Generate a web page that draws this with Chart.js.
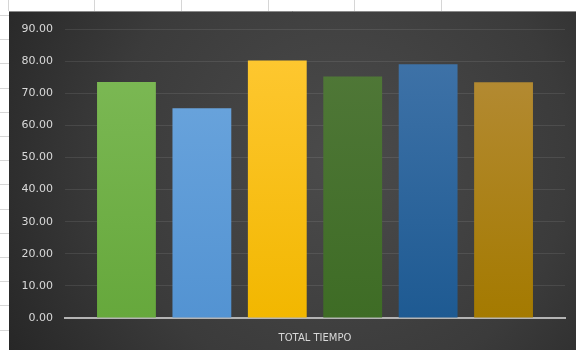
<!DOCTYPE html>
<html>
<head>
<meta charset="utf-8">
<script src="https://cdn.jsdelivr.net/npm/chart.js@4.4.1/dist/chart.umd.min.js"></script>
<style>
  html, body { margin: 0; padding: 0; background: #fff; }
  #wrap { width: 576px; height: 350px; position: relative; }
</style>
</head>
<body>
<div id="wrap"><canvas id="myChartTiempo"></canvas></div>
<script>
// data
var categories = ['TOTAL TIEMPO'];
var seriesNames = ['Serie 1', 'Serie 2', 'Serie 3', 'Serie 4', 'Serie 5', 'Serie 6'];
var seriesValues = [73.5, 65.3, 80.2, 75.2, 79.0, 73.4];
var yTicks = [0, 10, 20, 30, 40, 50, 60, 70, 80, 90];

// top / bottom colour of each bar's gradient
var colorsTop = ['#7fbb58', '#6fa8df', '#ffc935', '#52793a', '#4275aa', '#b68d3c'];
var colorsBottom = ['#66a83c', '#5393d2', '#f2b700', '#3e6c25', '#1e5a92', '#a47a00'];

// spreadsheet cells + dark chart background
var sheetBackground = {
    id: 'sheetBackground',
    beforeDraw: function (chart) {
        var ctx = chart.ctx;
        var w = chart.width, h = chart.height;
        ctx.save();
        ctx.fillStyle = '#ffffff';
        ctx.fillRect(0, 0, w, h);
        ctx.strokeStyle = '#d6d6d6';
        ctx.lineWidth = 1;
        var cols = [8, 94, 181, 268, 354, 441];
        cols.forEach(function (x) {
            ctx.beginPath();
            ctx.moveTo(x + 0.5, 0);
            ctx.lineTo(x + 0.5, 11);
            ctx.stroke();
        });
        for (var y = 15; y < h; y += 24.2) {
            ctx.beginPath();
            ctx.moveTo(0, Math.round(y) + 0.5);
            ctx.lineTo(9, Math.round(y) + 0.5);
            ctx.stroke();
        }
        var g = ctx.createRadialGradient(340, 160, 0, 340, 160, 380);
        g.addColorStop(0, '#4b4b4b');
        g.addColorStop(0.6, '#3b3b3b');
        g.addColorStop(1, '#272727');
        ctx.fillStyle = g;
        ctx.fillRect(9, 11, w - 9, h - 11);
        ctx.strokeStyle = '#8a8a8a';
        ctx.beginPath();
        ctx.moveTo(9, 11.5);
        ctx.lineTo(w, 11.5);
        ctx.stroke();
        ctx.restore();
    }
};

function barGradient(i) {
    return function (context) {
        var area = context.chart.chartArea;
        if (!area) return colorsBottom[i];
        var g = context.chart.ctx.createLinearGradient(0, area.top, 0, area.bottom);
        g.addColorStop(0, colorsTop[i]);
        g.addColorStop(1, colorsBottom[i]);
        return g;
    };
}

var datasets = seriesValues.map(function (v, i) {
    return {
        label: seriesNames[i],
        data: [v],
        backgroundColor: barGradient(i),
        borderWidth: 0
    };
});

var myChart = new Chart(document.getElementById('myChartTiempo'), {
    type: 'bar',
    data: { labels: categories, datasets: datasets },
    plugins: [sheetBackground],
    options: {
        responsive: true,
        maintainAspectRatio: false,
        animation: false,
        categoryPercentage: 0.905,
        barPercentage: 0.78,
        layout: { padding: { left: 9, right: 11, top: 29, bottom: 0 } },
        plugins: {
            legend: { display: false },
            tooltip: { enabled: false }
        },
        scales: {
            x: {
                grid: { display: false },
                border: { display: true, color: '#b4b4b4', width: 2 },
                ticks: {
                    color: '#d9d9d9',
                    font: { family: 'DejaVu Sans', size: 10 },
                    padding: 6
                },
                afterFit: function (scale) { scale.height = 32; }
            },
            y: {
                min: 0,
                max: 90,
                afterBuildTicks: function (scale) {
                    scale.ticks = yTicks.map(function (v) { return { value: v }; });
                },
                grid: { color: 'rgba(255,255,255,0.09)', drawTicks: false },
                border: { display: false },
                ticks: {
                    color: '#d9d9d9',
                    font: { family: 'DejaVu Sans', size: 11 },
                    padding: 12,
                    callback: function (v) { return Number(v).toFixed(2); }
                },
                afterFit: function (scale) { scale.width = 56; }
            }
        }
    }
});
</script>
</body>
</html>
